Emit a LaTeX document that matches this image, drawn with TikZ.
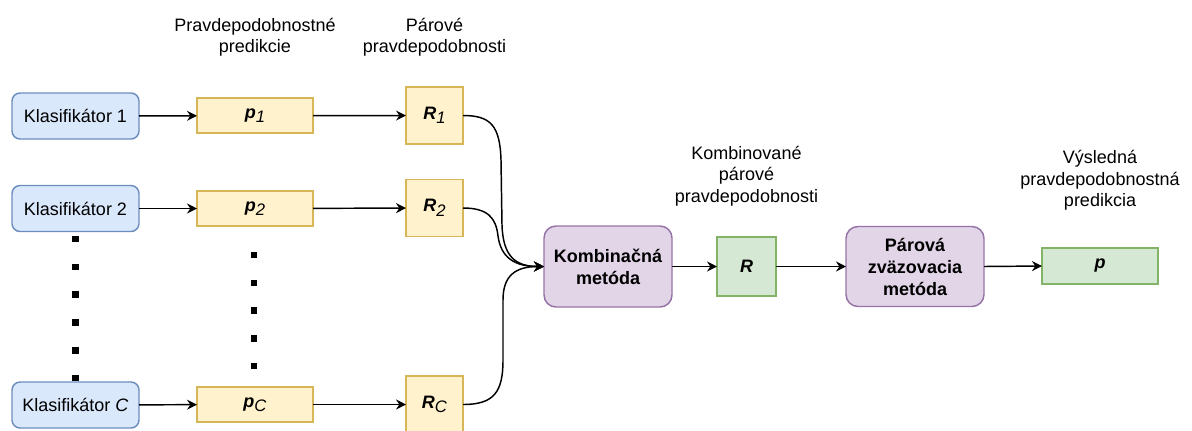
\documentclass[tikz,border=0pt]{standalone}
\usepackage{fontspec}
\setmainfont{Liberation Sans}
\usetikzlibrary{arrows.meta}

\definecolor{bluefill}{HTML}{DAE8FC}
\definecolor{blueline}{HTML}{6C8EBF}
\definecolor{yellowfill}{HTML}{FFF2CC}
\definecolor{yellowline}{HTML}{D6B656}
\definecolor{purplefill}{HTML}{E1D5E7}
\definecolor{purpleline}{HTML}{9673A6}
\definecolor{greenfill}{HTML}{D5E8D4}
\definecolor{greenline}{HTML}{82B366}

% bold italic symbol and a lowered italic index
\newcommand{\bisym}[1]{\textbf{\textit{#1}}}
\newcommand{\lowidx}[1]{\raisebox{-3.4pt}{\fontsize{12.5}{12.5}\selectfont\itshape #1}}

\begin{document}
\begin{tikzpicture}[x=0.75pt,y=-0.75pt,
  every node/.style={font=\fontsize{13.5}{16.1}\selectfont, inner sep=0pt, outer sep=0pt},
  classifier/.style={draw=blueline, fill=bluefill, line width=1.1pt, rounded corners=6pt,
    minimum width=95.25pt, minimum height=34.5pt},
  probbox/.style={draw=yellowline, fill=yellowfill, line width=1.1pt,
    minimum width=87pt, minimum height=26.25pt},
  pairbox/.style={draw=yellowline, fill=yellowfill, line width=1.1pt,
    minimum width=42.75pt, minimum height=42.75pt},
  method/.style={draw=purpleline, fill=purplefill, line width=1.1pt, rounded corners=9pt,
    align=center, font=\fontsize{13.5}{16.5}\selectfont\bfseries},
  resultbox/.style={draw=greenline, fill=greenfill, line width=1.1pt},
  caption/.style={align=center, anchor=base},
  link/.style={-{Stealth[length=7.5pt,width=7.5pt,inset=2.5pt]}, line width=1.1pt},
  dotline/.style={line width=4.9pt, dash pattern=on 4.9pt off 15.95pt}
]
\useasboundingbox (0,0) rectangle (1192,430);

% column captions (anchored at the baseline of their last line)
\node[caption] (capP) at (255,52.5) {Pravdepodobnostné\\predikcie};
\node[caption] (capR) at (434.5,52.5) {Párové\\pravdepodobnosti};
\node[caption] (capRc) at (746.5,202) {Kombinované\\párové\\pravdepodobnosti};
\node[caption] (capFinal) at (1100,206.5) {Výsledná\\pravdepodobnostná\\predikcia};

% classifiers
\node[classifier] (k1) at (75.5,116) {Klasifikátor 1};
\node[classifier] (k2) at (75.5,208.5) {Klasifikátor 2};
\node[classifier] (kc) at (75.5,405) {Klasifikátor \textit{C}};

% probabilistic predictions
\node[probbox] (p1) at (255,115.7) {\bisym{p}\lowidx{1}};
\node[probbox] (p2) at (255,208.5) {\bisym{p}\lowidx{2}};
\node[probbox] (pc) at (255,404.5) {\bisym{p}\lowidx{C}};

% pairwise probabilities
\node[pairbox] (r1) at (434.5,115.5) {\bisym{R}\lowidx{1}};
\node[pairbox] (r2) at (434.5,208) {\bisym{R}\lowidx{2}};
\node[pairbox] (rc) at (434.5,404.5) {\bisym{R}\lowidx{C}};

% combination and coupling
\node[method, minimum width=96pt, minimum height=60.75pt] (comb) at (608,266.5) {Kombinačná\\metóda};
\node[resultbox, minimum width=44.25pt, minimum height=44.25pt] (rr) at (746.5,266.5) {\bisym{R}};
\node[method, minimum width=103.5pt, minimum height=60pt] (coup) at (915,266.5) {Párová\\zväzovacia\\metóda};
\node[resultbox, minimum width=87pt, minimum height=27pt] (pp) at (1100,266) {\bisym{p}};

% elided rows
\draw[dotline, dash phase=17.65pt] (k2.south) -- (kc.north);
\coordinate (dotsTop) at (254,251.75);
\coordinate (dotsBot) at (254,369.75);
\draw[dotline] (dotsTop) -- (dotsBot);

% straight connectors
\draw[link] (k1) -- (p1);
\draw[link] (k2) -- (p2);
\draw[link] (kc) -- (pc);
\draw[link] (p1) -- (r1);
\draw[link] (p2) -- (r2);
\draw[link] (pc) -- (rc);
\draw[link] (comb) -- (rr);
\draw[link] (rr) -- (coup);
\draw[link] (coup.east) -- (pp.west);

% curved connectors into the combination method
\draw[link] (r1.east) .. controls (490,115.5) and (500,125) .. (501,160)
  -- (502,225) .. controls (503,256) and (515,266.5) .. (comb.west);
\draw[link] (r2.east) .. controls (488,208) and (496,218) .. (498,236)
  .. controls (501,258) and (515,266.5) .. (comb.west);
\draw[link] (rc.east) .. controls (494,404.5) and (503,392) .. (503,360)
  -- (503,300) .. controls (503,276) and (515,266.5) .. (comb.west);
\end{tikzpicture}
\end{document}
